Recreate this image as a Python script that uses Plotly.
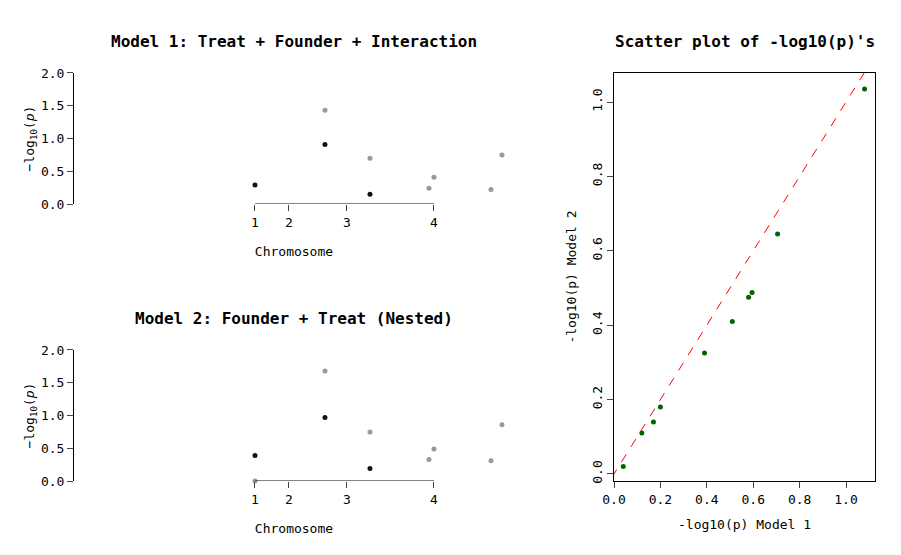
import plotly.graph_objects as go

# Manhattan positions (relative genomic position units)
chrom_ticks = [0, 34, 92, 179]
chrom_labels = ["1", "2", "3", "4"]
m1_black_x = [0, 70, 115]
m1_black_y = [0.29, 0.91, 0.15]
m1_gray_x = [70, 115, 174, 179, 236, 247]
m1_gray_y = [1.43, 0.70, 0.24, 0.41, 0.22, 0.75]
m2_black_x = [0, 70, 115]
m2_black_y = [0.39, 0.97, 0.19]
m2_gray_x = [0, 70, 115, 174, 179, 236, 247]
m2_gray_y = [0.0, 1.68, 0.75, 0.33, 0.49, 0.31, 0.86]
# scatter of -log10(p)
sc_x = [0.04, 0.12, 0.17, 0.20, 0.39, 0.51, 0.58, 0.595, 0.705, 1.08]
sc_y = [0.02, 0.11, 0.14, 0.18, 0.325, 0.41, 0.475, 0.488, 0.645, 1.035]

F = "DejaVu Sans Mono"
fig = go.Figure()
def pts(x, y, c, xa, ya):
    fig.add_trace(go.Scatter(x=x, y=y, mode="markers", marker=dict(color=c, size=5),
                             xaxis=xa, yaxis=ya, cliponaxis=False, showlegend=False))
pts(m1_gray_x, m1_gray_y, "#999999", "x", "y")
pts(m1_black_x, m1_black_y, "#111111", "x", "y")
pts(m2_gray_x, m2_gray_y, "#999999", "x2", "y2")
pts(m2_black_x, m2_black_y, "#111111", "x2", "y2")
fig.add_trace(go.Scatter(x=[-0.05, 1.2], y=[-0.05, 1.2], mode="lines",
                         line=dict(color="red", width=1, dash="dash"),
                         xaxis="x3", yaxis="y3", showlegend=False))
pts(sc_x, sc_y, "#006400", "x3", "y3")

xr = [-182, 260]
common_x = dict(range=xr, tickvals=chrom_ticks, ticktext=chrom_labels, ticks="outside",
                ticklen=6, showgrid=False, zeroline=False, showline=False, automargin=False,
                tickfont=dict(family=F, size=13, color="black"),
                title=dict(text="Chromosome", font=dict(family=F, size=13), standoff=18))
common_y = dict(range=[0, 2], tickvals=[0, 0.5, 1, 1.5, 2], ticktext=["0.0", "0.5", "1.0", "1.5", "2.0"],
                ticks="outside", ticklen=6, showline=True, linecolor="black", showgrid=False,
                zeroline=False, automargin=False, tickfont=dict(family=F, size=13, color="black"),
                title=dict(text="−log<sub>10</sub>(<i>p</i>)", font=dict(family=F, size=13), standoff=2))
def ann(text, px, py):
    return dict(text=text, x=px/901, y=1-py/555, xref="paper", yref="paper", showarrow=False,
                xanchor="center", yanchor="middle", font=dict(family=F, size=16))
fig.update_layout(
    width=901, height=555, margin=dict(l=0, r=0, t=0, b=0, autoexpand=False),
    plot_bgcolor="white", paper_bgcolor="white", font=dict(family=F, color="black"),
    xaxis=dict(domain=[0.0721, 0.5627], anchor="y", **common_x),
    yaxis=dict(domain=[0.6468, 0.8829], anchor="free", position=0.0721, **common_y),
    xaxis2=dict(domain=[0.0721, 0.5627], anchor="y2", **common_x),
    yaxis2=dict(domain=[0.1477, 0.3838], anchor="free", position=0.0721, **common_y),
    xaxis3=dict(domain=[0.6726, 0.9623], anchor="y3", range=[0, 1.125], automargin=False,
                tickvals=[0, 0.2, 0.4, 0.6, 0.8, 1.0], ticktext=["0.0", "0.2", "0.4", "0.6", "0.8", "1.0"],
                ticks="outside", ticklen=6, showline=True, mirror=True, linecolor="black",
                showgrid=False, zeroline=False, tickfont=dict(family=F, size=13, color="black"),
                title=dict(text="-log10(p) Model 1", font=dict(family=F, size=13), standoff=14)),
    yaxis3=dict(domain=[0.1477, 0.8829], anchor="x3", range=[-0.019, 1.078], automargin=False,
                tickvals=[0, 0.2, 0.4, 0.6, 0.8, 1.0], ticktext=["0.0", "0.2", "0.4", "0.6", "0.8", "1.0"],
                tickangle=-90, ticks="outside", ticklen=6, showline=True, mirror=True, linecolor="black",
                showgrid=False, zeroline=False, tickfont=dict(family=F, size=13, color="black"),
                title=dict(text="-log10(p) Model 2", font=dict(family=F, size=13), standoff=10)),
    annotations=[
        ann("<b>Model 1: Treat + Founder + Interaction</b>", 286, 33),
        ann("<b>Model 2: Founder + Treat (Nested)</b>", 286, 310),
        ann("<b>Scatter plot of -log10(p)'s</b>", 737, 33),
    ],
    shapes=[
        dict(type="line", xref="x", yref="y", x0=0, x1=179, y0=0, y1=0, line=dict(color="black", width=1)),
        dict(type="line", xref="x2", yref="y2", x0=0, x1=179, y0=0, y1=0, line=dict(color="black", width=1)),
    ],
)
fig.write_html("out.html")
